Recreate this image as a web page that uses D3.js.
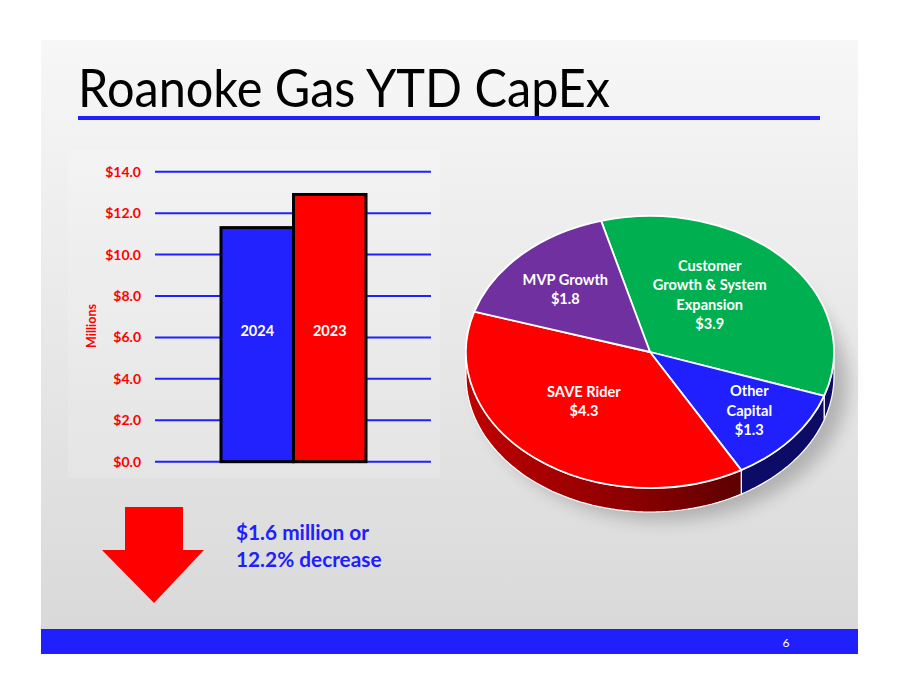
<!DOCTYPE html>
<html><head><meta charset="utf-8">
<script src="https://cdn.jsdelivr.net/npm/d3@7"></script>
<style>body{margin:0;background:#fff} svg{display:block}</style>
</head><body>
<svg id="c" width="899" height="695"></svg>
<script>
// ---- data ----
const titleText = "Roanoke Gas YTD CapEx";
const barCategories = ["2024", "2023"];
const barValues = [11.3, 12.9];
const yTicks = [0, 2, 4, 6, 8, 10, 12, 14];
const yAxisTitle = "Millions";
const pieCategories = ["Customer Growth & System Expansion", "Other Capital", "SAVE Rider", "MVP Growth"];
const pieLabelLines = [["Customer", "Growth & System", "Expansion"], ["Other", "Capital"], ["SAVE Rider"], ["MVP Growth"]];
const pieValues = [3.9, 1.3, 4.3, 1.8];
const noteLines = ["$1.6 million or", "12.2% decrease"];
const pageNumber = "6";

// ---- styles ----
const FONT = "Lato, 'Open Sans', sans-serif";
const BLUE = "#2020ff", RED = "#ff0000";
const barColors = ["#2222ff", "#ff0000"];
const pieTop = ["#00b050", "#2020ff", "#ff0000", "#7030a0"];
const pieSide = ["#0c0c66", "#0c0c66", "url(#redSide)", "#3e185c"];

const svg = d3.select("#c");
const defs = svg.append("defs");
const bg = defs.append("linearGradient").attr("id", "bg").attr("x1", 0).attr("y1", 0).attr("x2", 0).attr("y2", 1);
bg.append("stop").attr("offset", "0%").attr("stop-color", "#f7f7f7");
bg.append("stop").attr("offset", "100%").attr("stop-color", "#d9d9d9");
const rs = defs.append("linearGradient").attr("id", "redSide").attr("gradientUnits", "userSpaceOnUse")
  .attr("x1", 464).attr("y1", 0).attr("x2", 750).attr("y2", 0);
rs.append("stop").attr("offset", "0%").attr("stop-color", "#c00000");
rs.append("stop").attr("offset", "60%").attr("stop-color", "#8a0000");
rs.append("stop").attr("offset", "100%").attr("stop-color", "#5a0000");
const sh = defs.append("filter").attr("id", "shadow").attr("x", "-20%").attr("y", "-20%").attr("width", "140%").attr("height", "140%");
sh.append("feGaussianBlur").attr("stdDeviation", 9);

// slide background
svg.append("rect").attr("x", 41).attr("y", 40).attr("width", 817).attr("height", 589).attr("fill", "url(#bg)");
// footer
svg.append("rect").attr("x", 41).attr("y", 629).attr("width", 817).attr("height", 25).attr("fill", BLUE);
svg.append("text").attr("x", 786).attr("y", 646.5).attr("text-anchor", "middle")
  .attr("font-family", FONT).attr("font-size", 12).attr("fill", "#fff").text(pageNumber);

// title
svg.append("text").attr("x", 78).attr("y", 107).attr("font-family", FONT).attr("font-size", 52)
  .attr("fill", "#000").attr("textLength", 532).attr("lengthAdjust", "spacingAndGlyphs").text(titleText);
svg.append("rect").attr("x", 78).attr("y", 116).attr("width", 742).attr("height", 4).attr("fill", BLUE);

// ---- bar chart ----
svg.append("rect").attr("x", 68).attr("y", 150).attr("width", 372).attr("height", 328)
  .attr("fill", "#ffffff").attr("opacity", 0.14);
const y = d3.scaleLinear().domain([0, 14]).range([461.7, 171.7]);
const x = d3.scaleBand().domain(barCategories).range([221, 366]).padding(0);
const grid = svg.append("g");
grid.selectAll("line").data(yTicks).join("line")
  .attr("x1", 155).attr("x2", 431).attr("y1", d => y(d)).attr("y2", d => y(d))
  .attr("stroke", BLUE).attr("stroke-width", 2);
const yAxis = svg.append("g").attr("transform", "translate(141,0)")
  .call(d3.axisLeft(y).tickValues(yTicks).tickSize(0).tickPadding(0).tickFormat(d => "$" + d.toFixed(1)));
yAxis.select(".domain").remove();
yAxis.selectAll("text").attr("font-family", FONT).attr("font-size", 14).attr("font-weight", "bold").attr("fill", RED);
svg.append("text").attr("transform", "translate(96,326) rotate(-90)").attr("text-anchor", "middle")
  .attr("font-family", FONT).attr("font-size", 12.5).attr("font-weight", "bold").attr("fill", RED).text(yAxisTitle);
svg.append("g").selectAll("rect").data(barValues).join("rect")
  .attr("x", (d, i) => x(barCategories[i])).attr("width", x.bandwidth())
  .attr("y", d => y(d)).attr("height", d => y(0) - y(d))
  .attr("fill", (d, i) => barColors[i]).attr("stroke", "#000").attr("stroke-width", 3);
svg.append("g").selectAll("text").data(barCategories).join("text")
  .attr("x", d => x(d) + x.bandwidth() / 2).attr("y", 331).attr("dy", "0.35em").attr("text-anchor", "middle")
  .attr("font-family", FONT).attr("font-size", 14.5).attr("font-weight", "bold").attr("fill", "#fff").text(d => d);

// ---- 3D pie ----
const cx = 650, cy = 352, rx = 184, ry = 136, depth = 24;
const a0 = -15.4 * Math.PI / 180;
const pie = d3.pie().sort(null).value(d => d).startAngle(a0).endAngle(a0 + 2 * Math.PI);
const arcs = pie(pieValues);
const P = (a, f = 1, dy = 0) => [cx + rx * f * Math.sin(a), cy - ry * f * Math.cos(a) + dy];

// shadow
svg.append("ellipse").attr("cx", cx + 14).attr("cy", cy + depth + 8).attr("rx", rx).attr("ry", ry)
  .attr("fill", "#000").attr("opacity", 0.22).attr("filter", "url(#shadow)");

// sides
const line = d3.line();
const sides = svg.append("g");
arcs.forEach((d, i) => {
  const s = Math.max(d.startAngle, Math.PI / 2), e = Math.min(d.endAngle, 3 * Math.PI / 2);
  if (e <= s) return;
  const n = 60;
  const top = d3.range(n + 1).map(k => P(s + (e - s) * k / n));
  const bot = d3.range(n + 1).map(k => P(e - (e - s) * k / n, 1, depth));
  sides.append("path").attr("d", line(top.concat(bot)) + "Z")
    .attr("fill", pieSide[i]).attr("stroke", "#fff").attr("stroke-width", 1.2).attr("stroke-linejoin", "round");
});

// top face
const arc = d3.arc().innerRadius(0).outerRadius(rx);
const topG = svg.append("g").attr("transform", `translate(${cx},${cy}) scale(1,${ry / rx})`);
topG.selectAll("path").data(arcs).join("path").attr("d", arc)
  .attr("fill", (d, i) => pieTop[i]).attr("stroke", "#fff").attr("stroke-width", 1.8)
  .attr("vector-effect", "non-scaling-stroke").attr("stroke-linejoin", "round");

// labels
const labelPlace = [{ da: -9, f: 0.53 }, { da: -1, f: 0.69 }, { da: 6, f: 0.51 }, { da: -1, f: 0.65 }];
const lineH = 19.5;
arcs.forEach((d, i) => {
  const mid = (d.startAngle + d.endAngle) / 2 + labelPlace[i].da * Math.PI / 180;
  const [lx, ly] = P(mid, labelPlace[i].f);
  const lines = pieLabelLines[i].concat(["$" + d.data.toFixed(1)]);
  const t = svg.append("text").attr("font-family", FONT).attr("font-size", 14.6).attr("font-weight", "bold")
    .attr("fill", "#fff").attr("text-anchor", "middle");
  lines.forEach((s, k) => {
    t.append("tspan").attr("x", lx).attr("y", ly + (k - (lines.length - 1) / 2) * lineH).attr("dy", "0.35em").text(s);
  });
});

// ---- arrow + note ----
svg.append("path").attr("d", "M125,507 L183,507 L183,550 L204,550 L154,603 L102,550 L125,550 Z").attr("fill", RED);
svg.append("g").selectAll("text").data(noteLines).join("text")
  .attr("x", 236).attr("y", (d, i) => 540 + i * 27)
  .attr("font-family", FONT).attr("font-size", 20.8).attr("font-weight", "bold").attr("fill", BLUE).text(d => d);
</script>
</body></html>
